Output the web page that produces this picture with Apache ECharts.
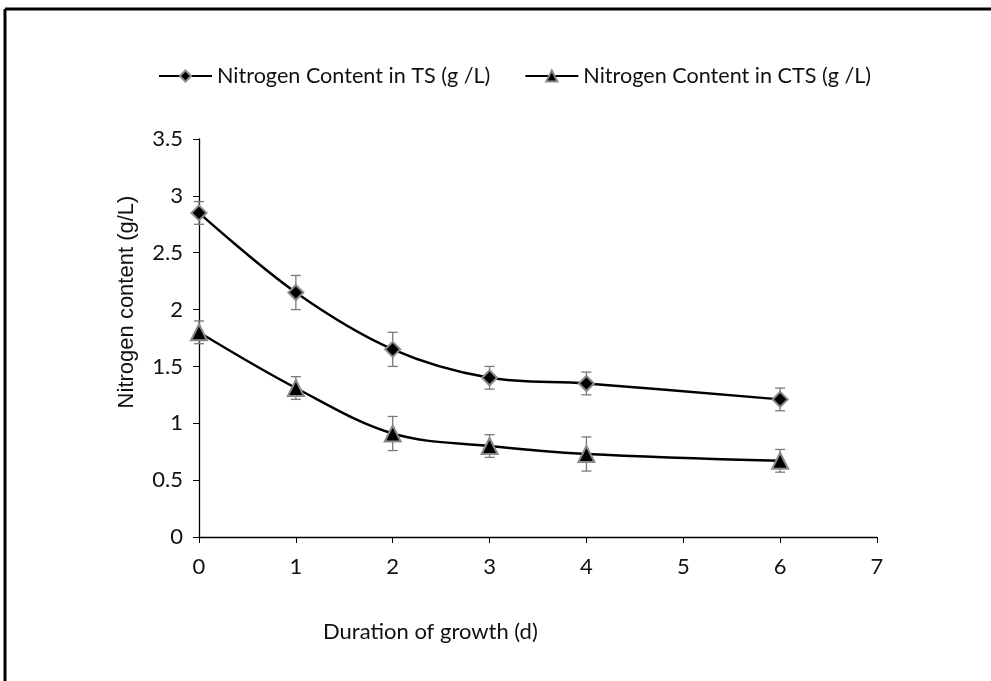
<!DOCTYPE html>
<html>
<head>
<meta charset="utf-8">
<script src="https://cdn.jsdelivr.net/npm/echarts@6/dist/echarts.min.js"></script>
<style>
html,body{margin:0;padding:0;background:#fff;}
#c{width:991px;height:681px;}
</style>
</head>
<body>
<div id="c"></div>
<script>
const days = [0, 1, 2, 3, 4, 6];
const tsValues = [2.85, 2.15, 1.65, 1.40, 1.35, 1.21];
const tsErrors = [0.10, 0.15, 0.15, 0.10, 0.10, 0.10];
const ctsValues = [1.80, 1.31, 0.91, 0.80, 0.73, 0.67];
const ctsErrors = [0.10, 0.10, 0.15, 0.10, 0.15, 0.10];
const seriesNames = ['Nitrogen Content in TS (g /L)', 'Nitrogen Content in CTS (g /L)'];
const xTitle = 'Duration of growth (d)';
const yTitle = 'Nitrogen content (g/L)';

const chart = echarts.init(document.getElementById('c'), null, {renderer: 'canvas'});
const pts = (vals) => days.map((d, i) => [d, vals[i]]);
const errData = (vals, errs) => days.map((d, i) => [d, vals[i] - errs[i], vals[i] + errs[i]]);

function errRender(params, api) {
  const x = api.value(0);
  const lo = api.coord([x, api.value(1)]);
  const hi = api.coord([x, api.value(2)]);
  const w = 5;
  const st = {stroke: '#7a7a7a', lineWidth: 1.3};
  return {
    type: 'group',
    children: [
      {type: 'line', shape: {x1: lo[0], y1: lo[1], x2: hi[0], y2: hi[1]}, style: st},
      {type: 'line', shape: {x1: lo[0] - w, y1: lo[1], x2: lo[0] + w, y2: lo[1]}, style: st},
      {type: 'line', shape: {x1: hi[0] - w, y1: hi[1], x2: hi[0] + w, y2: hi[1]}, style: st}
    ]
  };
}

const fontTick = 'Lato, "Open Sans", sans-serif';

chart.setOption({
  animation: false,
  backgroundColor: '#fff',
  grid: {left: 199, right: 114, top: 139, bottom: 144, containLabel: false},
  legend: {
    top: 60,
    left: 153,
    itemGap: 34,
    itemWidth: 53,
    itemHeight: 14,
    textStyle: {fontFamily: fontTick, fontSize: 21.6, color: '#111'},
    data: seriesNames
  },
  graphic: [
    {type: 'line', shape: {x1: 5, y1: 681, x2: 5, y2: 9}, style: {stroke: '#000', lineWidth: 3}},
    {type: 'line', shape: {x1: 5, y1: 9, x2: 991, y2: 9}, style: {stroke: '#000', lineWidth: 3}},
    {type: 'text', left: 323, top: 621, style: {text: xTitle, font: '22px Lato, "Open Sans", sans-serif', fill: '#111'}},
    {type: 'text', x: 127, y: 302, rotation: Math.PI / 2,
     style: {text: yTitle, font: '22px "Liberation Sans", Arial, sans-serif', fill: '#111', align: 'center', verticalAlign: 'middle'}}
  ],
  xAxis: {
    type: 'value', min: 0, max: 7, interval: 1,
    splitLine: {show: false},
    axisLine: {lineStyle: {color: '#000', width: 1.3}},
    axisTick: {length: 6, lineStyle: {color: '#000'}},
    axisLabel: {margin: 19, fontFamily: fontTick, fontSize: 22, color: '#111'}
  },
  yAxis: {
    type: 'value', min: 0, max: 3.5, interval: 0.5,
    splitLine: {show: false},
    axisLine: {show: true, lineStyle: {color: '#000', width: 1.3}},
    axisTick: {show: true, length: 6, lineStyle: {color: '#000'}},
    axisLabel: {margin: 16, fontFamily: fontTick, fontSize: 22, color: '#111'}
  },
  series: [
    {type: 'custom', renderItem: errRender, data: errData(tsValues, tsErrors), z: 1, silent: true},
    {type: 'custom', renderItem: errRender, data: errData(ctsValues, ctsErrors), z: 1, silent: true},
    {
      name: seriesNames[0], type: 'line', data: pts(tsValues), smooth: 0.35,
      symbol: 'diamond', symbolSize: 15,
      lineStyle: {color: '#000', width: 2.4},
      itemStyle: {color: '#000', borderColor: '#8a8a8a', borderWidth: 2},
      z: 3
    },
    {
      name: seriesNames[1], type: 'line', data: pts(ctsValues), smooth: 0.35,
      symbol: 'triangle', symbolSize: 16,
      lineStyle: {color: '#000', width: 2.4},
      itemStyle: {color: '#000', borderColor: '#8a8a8a', borderWidth: 2},
      z: 3
    }
  ]
});
</script>
</body>
</html>
